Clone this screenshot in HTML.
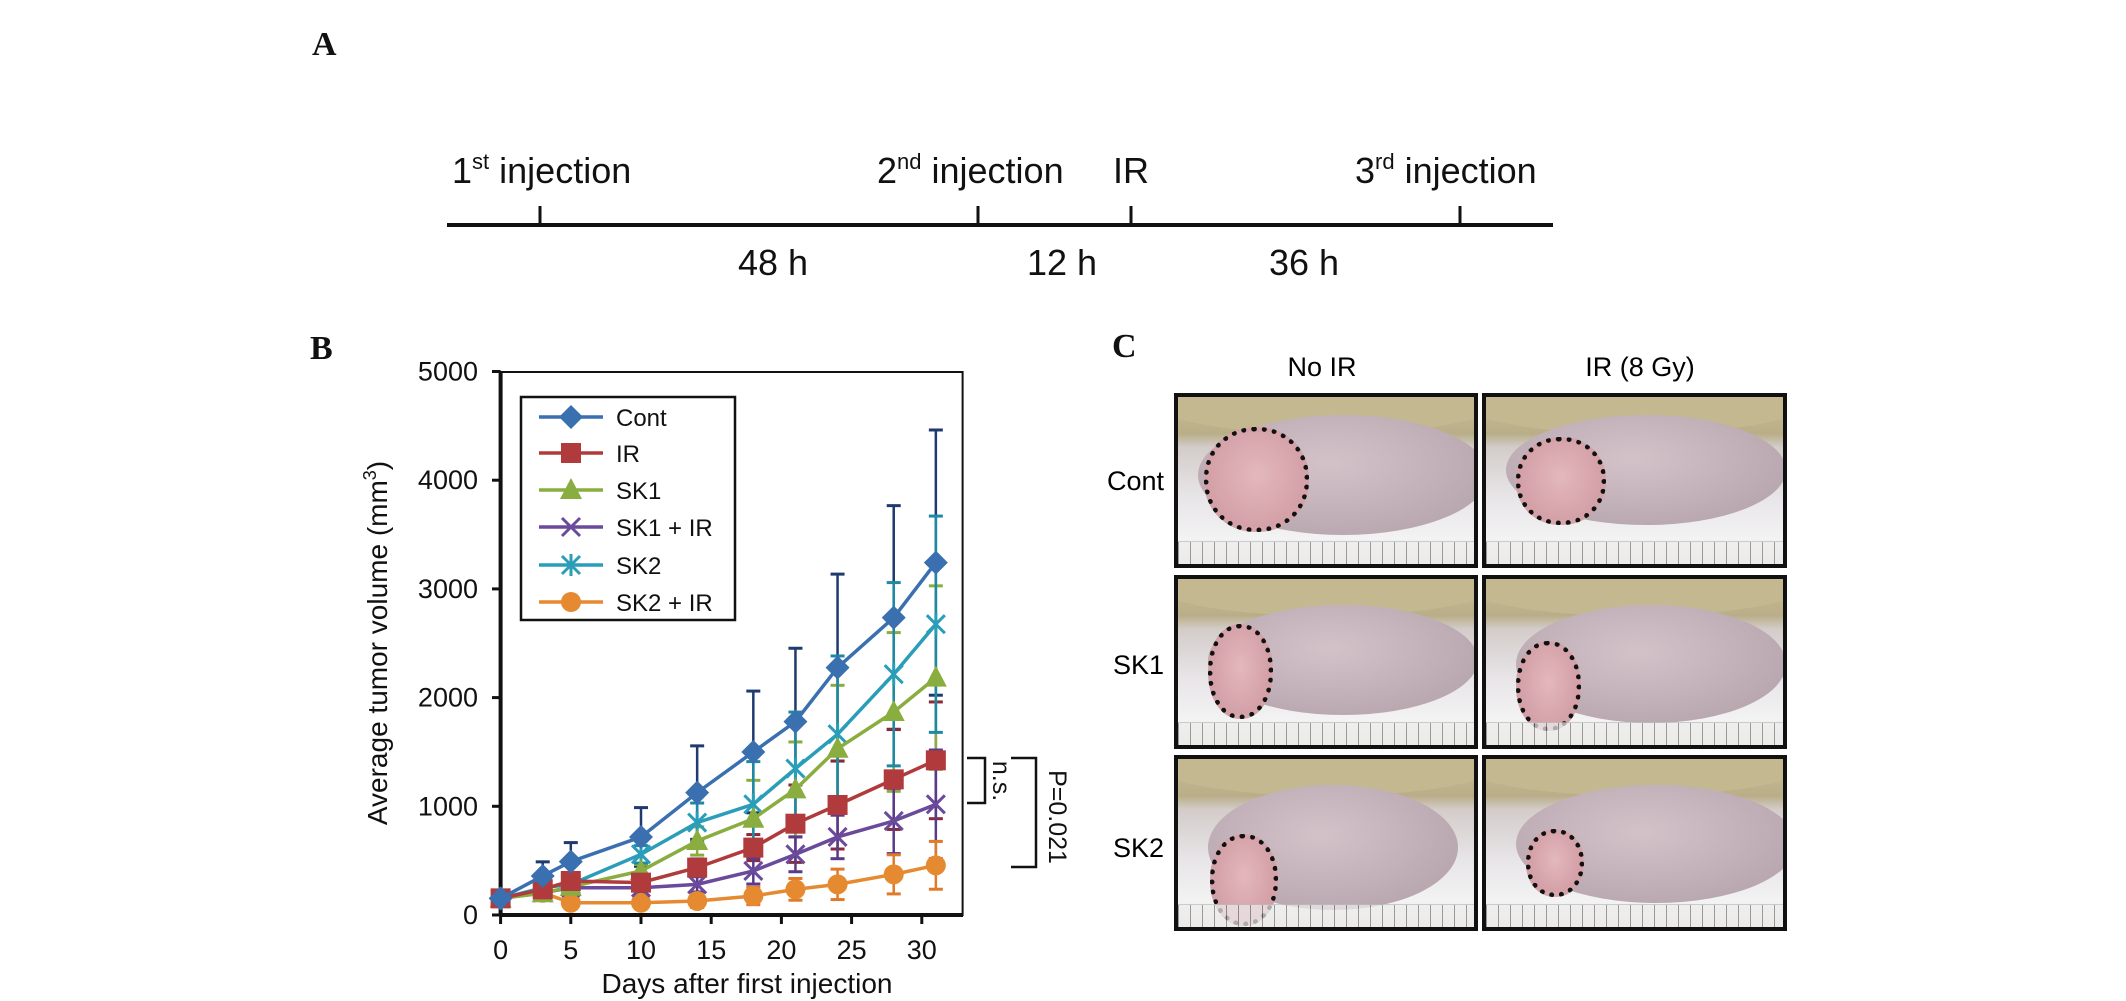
<!DOCTYPE html>
<html><head><meta charset="utf-8">
<style>
html,body{margin:0;padding:0;background:#fff;}
body{width:2126px;height:1001px;position:relative;overflow:hidden;font-family:"Liberation Sans",Arial,sans-serif;}
.lbl{position:absolute;font-family:"Liberation Serif",serif;font-weight:bold;font-size:34px;color:#111;}
.photo{position:absolute;box-sizing:border-box;border:4px solid #111;overflow:hidden;
background:linear-gradient(180deg,#c9bd98 0%,#b9ae88 22%,#d3ccc9 30%,#e8e5e8 60%,#f3f3f3 85%,#e6e3dd 100%);}
.pillow{position:absolute;left:-10%;top:-20%;width:120%;height:42%;border-radius:50%;background:#c4b890;}
.body{position:absolute;background:radial-gradient(ellipse at 45% 40%,#d3c3c9,#bba9b1 70%,#b3a3aa);border-radius:50%;}
.tumor{position:absolute;border:5px dotted #111;border-radius:48%;background:radial-gradient(ellipse at 50% 45%,#e3b8bc,#d4a1a8 70%);}
.ruler{position:absolute;left:0;right:0;bottom:0;height:22px;background:repeating-linear-gradient(90deg,#777 0 1px,#eee 1px 12px),#eee;border-top:1px solid #bbb;opacity:.7;}
</style></head>
<body>
<div class="lbl" style="left:312px;top:26px;">A</div>
<div class="lbl" style="left:310px;top:330px;">B</div>
<div class="lbl" style="left:1112px;top:328px;">C</div>

<svg width="2126" height="300" style="position:absolute;left:0;top:0" font-family="Liberation Sans, Arial, sans-serif" font-size="36" fill="#111">
  <line x1="447" y1="225" x2="1553" y2="225" stroke="#111" stroke-width="4"/>
  <line x1="540" y1="206" x2="540" y2="225" stroke="#111" stroke-width="3"/>
  <line x1="978" y1="206" x2="978" y2="225" stroke="#111" stroke-width="3"/>
  <line x1="1131" y1="206" x2="1131" y2="225" stroke="#111" stroke-width="3"/>
  <line x1="1460" y1="206" x2="1460" y2="225" stroke="#111" stroke-width="3"/>
  <text x="452" y="183">1<tspan font-size="22" dy="-14">st</tspan><tspan dy="14"> injection</tspan></text>
  <text x="877" y="183">2<tspan font-size="22" dy="-14">nd</tspan><tspan dy="14"> injection</tspan></text>
  <text x="1113" y="183">IR</text>
  <text x="1355" y="183">3<tspan font-size="22" dy="-14">rd</tspan><tspan dy="14"> injection</tspan></text>
  <text x="773" y="275" text-anchor="middle">48 h</text>
  <text x="1062" y="275" text-anchor="middle">12 h</text>
  <text x="1304" y="275" text-anchor="middle">36 h</text>
</svg>

<svg id="chart" width="1150" height="1001" style="position:absolute;left:0;top:0" font-family="Liberation Sans, Arial, sans-serif"></svg>

<div style="position:absolute;left:1262px;top:352px;width:120px;text-align:center;font-size:27px;">No IR</div>
<div style="position:absolute;left:1560px;top:352px;width:160px;text-align:center;font-size:27px;">IR (8 Gy)</div>
<div style="position:absolute;left:1080px;top:466px;width:84px;text-align:right;font-size:27px;">Cont</div>
<div style="position:absolute;left:1080px;top:650px;width:84px;text-align:right;font-size:27px;">SK1</div>
<div style="position:absolute;left:1080px;top:833px;width:84px;text-align:right;font-size:27px;">SK2</div>

<div class="photo" style="left:1174px;top:393px;width:304px;height:175px;"><div class="pillow"></div><div class="body" style="left:20px;top:18px;width:290px;height:120px;"></div><div class="tumor" style="left:26px;top:30px;width:95px;height:95px;"></div><div class="ruler"></div></div>
<div class="photo" style="left:1482px;top:393px;width:305px;height:175px;"><div class="pillow"></div><div class="body" style="left:20px;top:18px;width:280px;height:110px;"></div><div class="tumor" style="left:30px;top:40px;width:80px;height:78px;"></div><div class="ruler"></div></div>
<div class="photo" style="left:1174px;top:575px;width:304px;height:174px;"><div class="pillow"></div><div class="body" style="left:30px;top:26px;width:270px;height:110px;"></div><div class="tumor" style="left:30px;top:45px;width:55px;height:85px;"></div><div class="ruler"></div></div>
<div class="photo" style="left:1482px;top:575px;width:305px;height:174px;"><div class="pillow"></div><div class="body" style="left:30px;top:26px;width:270px;height:118px;"></div><div class="tumor" style="left:30px;top:62px;width:55px;height:80px;"></div><div class="ruler"></div></div>
<div class="photo" style="left:1174px;top:755px;width:304px;height:176px;"><div class="pillow"></div><div class="body" style="left:30px;top:26px;width:250px;height:125px;"></div><div class="tumor" style="left:32px;top:75px;width:58px;height:82px;"></div><div class="ruler"></div></div>
<div class="photo" style="left:1482px;top:755px;width:305px;height:176px;"><div class="pillow"></div><div class="body" style="left:30px;top:26px;width:280px;height:118px;"></div><div class="tumor" style="left:40px;top:70px;width:48px;height:58px;"></div><div class="ruler"></div></div>

<script>
const days = [0,3,5,10,14,18,21,24,28,31];
const seriesNames = ["Cont","IR","SK1","SK1 + IR","SK2","SK2 + IR"];
const contVals = [153,359,491,718,1126,1500,1779,2276,2736,3242];
const irVals = [153,236,313,298,436,620,840,1012,1248,1423];
const sk1Vals = [153,200,260,405,681,886,1156,1530,1868,2184];
const sk1irVals = [153,205,251,251,282,405,558,718,865,1018];
const sk2Vals = [153,250,282,558,850,1018,1347,1663,2215,2675];
const sk2irVals = [153,205,113,113,129,175,236,282,374,457];
const contErr = [20,130,175,270,430,560,675,860,1030,1220];
const irErr = [20,40,60,60,80,120,356,405,461,537];
const sk1Err = [20,40,50,60,130,353,436,583,730,844];
const sk1irErr = [20,30,40,50,70,120,160,200,300,500];
const sk2Err = [20,40,50,80,180,393,520,720,843,995];
const sk2irErr = [20,40,40,50,60,80,100,140,180,220];
const yTicks = [0,1000,2000,3000,4000,5000];
const xTicks = [0,5,10,15,20,25,30];

const svg = document.getElementById('chart');
const NS = 'http://www.w3.org/2000/svg';
const X0 = 500.6, XPD = 14.04, Y0 = 915, YPU = 0.1087;
const xs = d => X0 + d*XPD;
const ys = v => Y0 - v*YPU;
function mk(tag, attrs, parent){ const e=document.createElementNS(NS,tag); for(const k in attrs) e.setAttribute(k,attrs[k]); (parent||svg).appendChild(e); return e; }

const series = [
 {name:seriesNames[0], vals:contVals, err:contErr, col:'#3a6fb0', ecol:'#1f3a6e', m:'diamond'},
 {name:seriesNames[1], vals:irVals, err:irErr, col:'#b03a3c', ecol:'#8a2a3a', m:'square'},
 {name:seriesNames[2], vals:sk1Vals, err:sk1Err, col:'#8aad3f', ecol:'#8aad3f', m:'triangle'},
 {name:seriesNames[3], vals:sk1irVals, err:sk1irErr, col:'#6a4a9a', ecol:'#5a3a8a', m:'x'},
 {name:seriesNames[4], vals:sk2Vals, err:sk2Err, col:'#2a9db8', ecol:'#1d8aa5', m:'star'},
 {name:seriesNames[5], vals:sk2irVals, err:sk2irErr, col:'#e58a30', ecol:'#e07a2a', m:'circle'}
];

function marker(type, cx, cy, col, g){
  let e;
  if(type==='diamond') e=mk('polygon',{points:`${cx},${cy-12} ${cx+12},${cy} ${cx},${cy+12} ${cx-12},${cy}`,fill:col},g);
  else if(type==='square') e=mk('rect',{x:cx-10,y:cy-10,width:20,height:20,fill:col},g);
  else if(type==='triangle') e=mk('polygon',{points:`${cx},${cy-12} ${cx+11},${cy+9} ${cx-11},${cy+9}`,fill:col},g);
  else if(type==='circle') e=mk('circle',{cx:cx,cy:cy,r:10,fill:col},g);
  else if(type==='x') e=mk('path',{d:`M${cx-9},${cy-9}L${cx+9},${cy+9}M${cx-9},${cy+9}L${cx+9},${cy-9}`,stroke:col,'stroke-width':3,fill:'none'},g);
  else e=mk('path',{d:`M${cx-9},${cy-9}L${cx+9},${cy+9}M${cx-9},${cy+9}L${cx+9},${cy-9}M${cx},${cy-11}L${cx},${cy+11}`,stroke:col,'stroke-width':3,fill:'none'},g);
  return e;
}

const frame = mk('rect',{x:500.6,y:372,width:462,height:543,fill:'none',stroke:'#111','stroke-width':2});


mk('line',{x1:500.6,y1:372,x2:500.6,y2:915,stroke:'#111','stroke-width':4});
mk('line',{x1:500.6,y1:915,x2:963,y2:915,stroke:'#111','stroke-width':4});

yTicks.forEach(v=>{
  const t = mk('line',{x1:492,y1:ys(v),x2:500.6,y2:ys(v),stroke:'#111','stroke-width':3});
  
  
  const l = mk('text',{x:478,y:ys(v)+9,'text-anchor':'end','font-size':27,fill:'#111'});
  l.textContent = v;
  
  
});
xTicks.forEach(d=>{
  const t = mk('line',{x1:xs(d),y1:915,x2:xs(d),y2:924,stroke:'#111','stroke-width':3});
  
  
  const l = mk('text',{x:xs(d),y:959,'text-anchor':'middle','font-size':27,fill:'#111'});
  l.textContent = d;
  
  
});
const xt = mk('text',{x:747,y:993,'text-anchor':'middle','font-size':28,fill:'#111'});
xt.textContent = 'Days after first injection';


const yt = mk('text',{x:0,y:0,'text-anchor':'middle','font-size':28,fill:'#111',transform:'translate(387,643) rotate(-90)'});
yt.innerHTML = 'Average tumor volume (mm<tspan dy="-11" font-size="18">3</tspan><tspan dy="11">)</tspan>';



series.forEach(s=>{
  const g = mk('g',{});
  
  
  days.forEach((d,i)=>{
    const x=xs(d), y1=ys(s.vals[i]+s.err[i]), y2=ys(Math.max(0,s.vals[i]-s.err[i]));
    mk('line',{x1:x,y1:y1,x2:x,y2:y2,stroke:s.ecol,'stroke-width':2.5},g);
    mk('line',{x1:x-7,y1:y1,x2:x+7,y2:y1,stroke:s.ecol,'stroke-width':3},g);
    mk('line',{x1:x-7,y1:y2,x2:x+7,y2:y2,stroke:s.ecol,'stroke-width':3},g);
  });
});
series.slice().reverse().forEach(s=>{
  const g = mk('g',{});
  
  
  const pts = days.map((d,i)=>xs(d)+','+ys(s.vals[i])).join(' ');
  mk('polyline',{points:pts,fill:'none',stroke:s.col,'stroke-width':3.5},g);
  days.forEach((d,i)=>{
    const m = marker(s.m, xs(d), ys(s.vals[i]), s.col, g);
    
    
  });
});

const lg = mk('g',{});


mk('rect',{x:521,y:397,width:214,height:223,fill:'#fff',stroke:'#111','stroke-width':2.5},lg);
const legY = [417,453,490,527,565,602];
series.forEach((s,i)=>{
  const e = mk('g',{},lg);
  
  
  mk('line',{x1:539,y1:legY[i],x2:603,y2:legY[i],stroke:s.col,'stroke-width':3.5},e);
  marker(s.m,571,legY[i],s.col,e);
  const t = mk('text',{x:616,y:legY[i]+9,'font-size':24,fill:'#111'},e);
  t.textContent = s.name;
});

const b1 = mk('path',{d:'M967,758 H985 V803 H967',fill:'none',stroke:'#111','stroke-width':2.5});


const t1 = mk('text',{x:0,y:0,'text-anchor':'middle','font-size':25,fill:'#111',transform:'translate(993,781) rotate(90)'});
t1.textContent='n.s.';


const b2 = mk('path',{d:'M1011,758 H1036 V867 H1011',fill:'none',stroke:'#111','stroke-width':2.5});


const t2 = mk('text',{x:0,y:0,'text-anchor':'middle','font-size':25,fill:'#111',transform:'translate(1049,817) rotate(90)'});
t2.textContent='P=0.021';


</script>
</body></html>
